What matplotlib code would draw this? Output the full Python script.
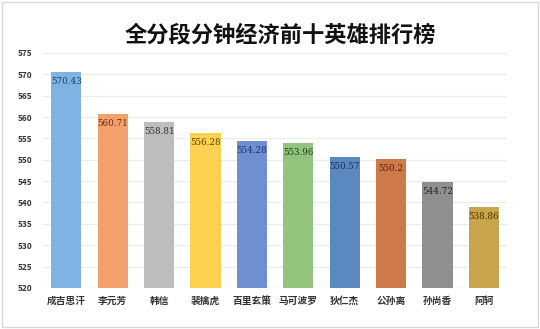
import matplotlib
matplotlib.use("Agg")
import matplotlib.pyplot as plt
from matplotlib.patches import Rectangle

plt.rcParams['font.family'] = ['Noto Sans CJK SC', 'DejaVu Sans']

# ================= DATA =================
heroes = ["成吉思汗", "李元芳", "韩信", "裴擒虎", "百里玄策",
          "马可波罗", "狄仁杰", "公孙离", "孙尚香", "阿轲"]
gold_per_min = [570.43, 560.71, 558.81, 556.28, 554.28,
                553.96, 550.57, 550.2, 544.72, 538.86]
value_labels = ["570.43", "560.71", "558.81", "556.28", "554.28",
                "553.96", "550.57", "550.2", "544.72", "538.86"]
y_ticks = [520, 525, 530, 535, 540, 545, 550, 555, 560, 565, 570, 575]

bar_colors = ["#7fb3e3", "#f3a06c", "#bdbdbd", "#fcd14f", "#6e8fd1",
              "#93c47d", "#5b88bf", "#cc7a49", "#8f8f8f", "#c8a54a"]
text_colors = ["#1f3d66", "#6b2c0c", "#333333", "#5a4200", "#1b2e66",
               "#1d4013", "#1b2e55", "#5a2008", "#222222", "#4a3500"]

fig = plt.figure(figsize=(5.40, 3.29), dpi=100)
fig.patch.set_facecolor("white")
fig.patches.append(Rectangle((0.004, 0.006), 0.992, 0.988, transform=fig.transFigure,
                             fill=False, edgecolor="#d9d9d9", linewidth=1))

ax = fig.add_axes([0.08, 0.125, 0.859, 0.714])

x = list(range(len(heroes)))
ax.bar(x, [v - 520 for v in gold_per_min], bottom=520, width=0.65,
       color=bar_colors, zorder=3)

for i, v in enumerate(gold_per_min):
    ax.text(i, v - 1.1, value_labels[i], ha="center", va="top",
            fontsize=6.3, family="DejaVu Serif", color=text_colors[i], zorder=4)

ax.set_xlim(-0.5, len(heroes) - 0.5)
ax.set_ylim(520, 575)
ax.set_yticks(y_ticks)
ax.set_yticklabels([str(t) for t in y_ticks], fontsize=6,
                   fontweight="bold", color="#333333")
ax.set_xticks(x)
ax.set_xticklabels(heroes, fontsize=7, color="#333333", fontweight="bold")
ax.tick_params(axis="both", length=0, pad=6)
ax.tick_params(axis="y", pad=8)

ax.grid(axis="y", color="#ececec", linewidth=0.8, zorder=0)
for s in ax.spines.values():
    s.set_visible(False)
ax.axhline(520, color="#d9d9d9", linewidth=0.8, zorder=2)

fig.text(0.52, 0.893, "全分段分钟经济前十英雄排行榜", ha="center", va="center",
         fontsize=16, fontweight="bold", color="#111111")

fig.savefig("out.png", dpi=100)
